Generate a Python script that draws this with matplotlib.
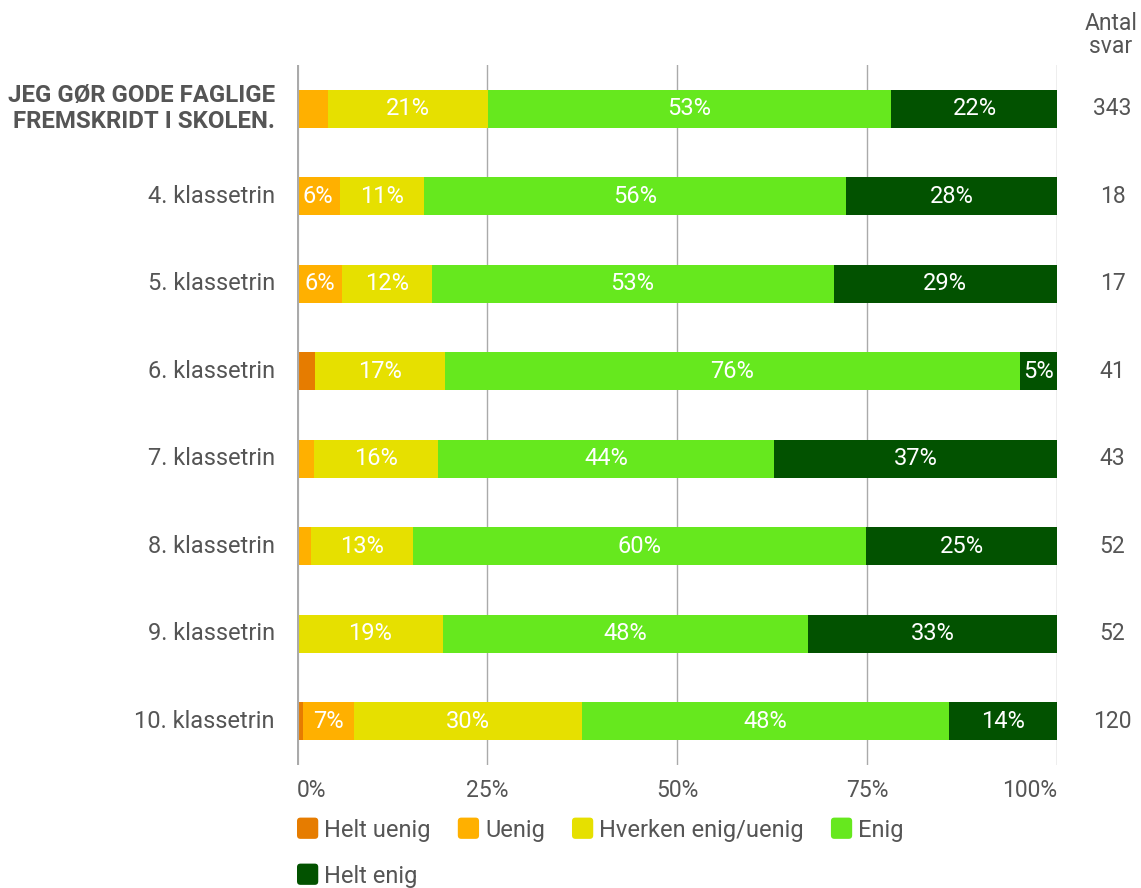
import numpy as np
import matplotlib.pyplot as plt
from matplotlib.patches import FancyBboxPatch, Patch
from matplotlib.legend_handler import HandlerPatch

plt.rcParams['font.family'] = ['Roboto', 'DejaVu Sans']

rows = ['JEG GØR GODE FAGLIGE\nFREMSKRIDT I SKOLEN.', '4. klassetrin', '5. klassetrin',
        '6. klassetrin', '7. klassetrin', '8. klassetrin', '9. klassetrin', '10. klassetrin']
antal = [343, 18, 17, 41, 43, 52, 52, 120]

categories = ['Helt uenig', 'Uenig', 'Hverken enig/uenig', 'Enig', 'Helt enig']
helt_uenig = [0.3, 0.0, 0.0, 2.4, 0.0, 0.0, 0.0, 0.8]
uenig = [3.8, 5.6, 5.9, 0.0, 2.3, 1.9, 0.0, 6.7]
hverken = [21.0, 11.1, 11.8, 17.1, 16.3, 13.4, 19.2, 30.0]
enig = [53.1, 55.6, 52.9, 75.6, 44.2, 59.6, 48.1, 48.3]
helt_enig = [21.9, 27.8, 29.4, 4.9, 37.2, 25.1, 32.7, 14.2]

colors = ['#E67C00', '#FFB000', '#E6E000', '#66E81E', '#025200']
grey = '#555555'

series = [helt_uenig, uenig, hverken, enig, helt_enig]

fig = plt.figure(figsize=(11.41, 8.88), dpi=100)
ax = fig.add_axes([297 / 1141, 1 - 765 / 888, 760 / 1141, 700 / 888])

y = np.arange(len(rows))
left = np.zeros(len(rows))
for vals, col in zip(series, colors):
    vals = np.array(vals)
    ax.barh(y, vals, left=left, height=0.435, color=col, zorder=3)
    for i, v in enumerate(vals):
        if v >= 4.5:
            ax.text(left[i] + v / 2, y[i], f'{v:.0f}%', ha='center', va='center',
                    color='white', fontsize=17, zorder=4)
    left += vals

ax.set_xlim(0, 100)
ax.set_ylim(len(rows) - 0.5, -0.5)
for s in ax.spines.values():
    s.set_visible(False)
for xv in [25, 50, 75, 100]:
    ax.axvline(xv, color='#AAAAAA', lw=1, zorder=1)
ax.axvline(0, color='#AAAAAA', lw=3, zorder=5)

ax.set_xticks([0, 25, 50, 75, 100])
ax.set_xticklabels(['0%', '25%', '50%', '75%', '100%'])
ax.tick_params(axis='x', length=0, pad=10, labelsize=16.5, labelcolor=grey)
xl = ax.get_xticklabels()
xl[0].set_ha('left')
xl[-1].set_ha('right')
ax.set_yticks([])

for i, lab in enumerate(rows):
    if i == 0:
        ax.text(-2.9, y[i], lab, ha='right', va='center', fontsize=17.3, fontweight='bold',
                color=grey, linespacing=1.15)
    else:
        ax.text(-2.9, y[i], lab, ha='right', va='center', fontsize=17, color=grey)
    ax.text(107.3, y[i], str(antal[i]), ha='center', va='center', fontsize=16.5, color=grey,
            clip_on=False)

fig.text(1111 / 1141, 1 - 35 / 888, 'Antal\nsvar', ha='center', va='center', fontsize=16.5,
         color=grey, linespacing=1.05)


# legend with rounded square handles
def rounded(legend, orig_handle, xdescent, ydescent, width, height, fontsize):
    s = min(width, height * 1.45)
    return FancyBboxPatch((-xdescent, -ydescent + height / 2 - s / 2), s, s,
                          boxstyle='round,pad=0,rounding_size=2.5')


handles = [Patch(facecolor=c, edgecolor='none') for c in colors]
hmap = {Patch: HandlerPatch(patch_func=rounded)}
leg1 = fig.legend(handles[:4], categories[:4], ncol=4, loc='center left',
                  bbox_to_anchor=(297 / 1141, 1 - 830 / 888), frameon=False, fontsize=17,
                  handletextpad=0.25, columnspacing=1.15, handlelength=0.9, borderpad=0,
                  borderaxespad=0, handler_map=hmap)
for t in leg1.get_texts():
    t.set_color(grey)
leg2 = fig.legend(handles[4:], categories[4:], loc='center left',
                  bbox_to_anchor=(297 / 1141, 1 - 876 / 888), frameon=False, fontsize=17,
                  handletextpad=0.25, handlelength=0.9, borderpad=0, borderaxespad=0,
                  handler_map=hmap)
for t in leg2.get_texts():
    t.set_color(grey)

fig.savefig('out.png', dpi=100)
